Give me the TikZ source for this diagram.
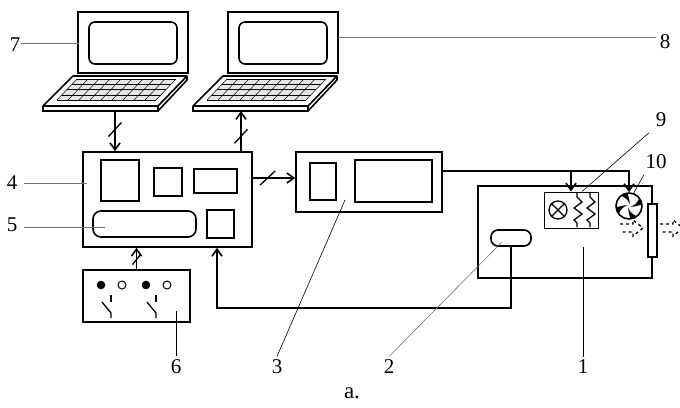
\documentclass[tikz,border=0pt]{standalone}
\usepackage{fontspec}
\setmainfont{Liberation Serif}
\usetikzlibrary{arrows.meta, positioning}

\begin{document}
\begin{tikzpicture}[
    x=1pt, y=-1pt,
    font=\fontsize{21}{24}\selectfont,
    ln/.style={line width=1.6pt},
    box/.style={draw, ln, inner sep=0pt},
    lead/.style={line width=.6pt},
    leadg/.style={lead, black!55},
    ar/.style={ln, -{Straight Barb[length=7pt,width=10pt]}},
    brk/.style={line width=1.3pt},
    keyln/.style={line width=.5pt},
    flow/.style={line width=1.3pt, dash pattern=on 3pt off 3pt},
    laptop/.pic={
      % lid with its screen
      \draw[ln] (0,0) rectangle (110,61);
      \draw[ln, rounded corners=6pt] (11,10) rectangle (99,52);
      % keyboard plate and its front edge
      \draw[ln, line join=round] (-5,64) -- (109,64) -- (80,94) -- (-35,94) -- cycle;
      \draw[ln] (-35,94) -- (-35,99) -- (80,99) -- (80,94) (80,99) -- (109,68) -- (109,64);
      % keys
      \fill[black!10] (-1,67) -- (98,67) -- (78,88) -- (-21,88) -- cycle;
      \foreach \k in {0,...,4}
        \draw[keyln] (-1-5*\k,67+5.25*\k) -- (98-5*\k,67+5.25*\k);
      \foreach \k in {0,...,9}
        \draw[keyln] (-1+11*\k,67) -- (-21+11*\k,88);
    }
  ]
  \useasboundingbox (0,0) rectangle (680,407);

  % two computers
  \pic at (78,12) {laptop};
  \pic at (228,12) {laptop};
  \coordinate (p7) at (115,111);
  \coordinate (p8) at (241,111);

  % controller block 4 with its parts
  \node[box, minimum width=169pt, minimum height=95pt] (b4) at (167.5,199.5) {};
  \node[box, minimum width=38pt, minimum height=41pt] (k1) at (120,180.5) {};
  \node[box, minimum width=28pt, minimum height=28pt] (k2) at (168,182) {};
  \node[box, minimum width=43pt, minimum height=24pt] (k3) at (215.5,181) {};
  \node[box, minimum width=103pt, minimum height=26pt, rounded corners=8pt] (k4) at (144.5,224) {};
  \node[box, minimum width=27pt, minimum height=28pt] (k5) at (220.5,224) {};

  % block 3
  \node[box, minimum width=146pt, minimum height=60pt] (b3) at (369,182) {};
  \node[box, minimum width=26pt, minimum height=37pt] (d1) at (323,181.5) {};
  \node[box, minimum width=77pt, minimum height=42pt] (d2) at (393.5,181) {};

  % switch panel 6
  \node[box, minimum width=107pt, minimum height=52pt] (b6) at (136.5,296) {};
  \foreach \s in {0,45} {
    \fill ({101+\s},285) circle (4.3);
    \draw[line width=1pt] ({122+\s},285) circle (4);
    \draw[line width=1.3pt] ({111+\s},295) -- ({111+\s},302);
    \draw[line width=1.3pt] ({102+\s},302) -- ({111+\s},313) -- ({111+\s},318);
  }

  % chamber 1
  \node[box, minimum width=174pt, minimum height=92pt] (b1) at (565,232) {};
  \node[box, minimum width=40pt, minimum height=16pt, rounded corners=7pt] (sens) at (511,238) {};
  \node[box, fill=white, minimum width=9pt, minimum height=53pt] (win) at (652.5,230.5) {};

  % lamp and heaters 9
  \node[box, line width=1pt, minimum width=54pt, minimum height=36pt] (b9) at (571,210) {};
  \node[draw, circle, line width=1.3pt, minimum size=18pt, inner sep=0pt] (lamp) at (558,210) {};
  \draw[line width=1.3pt] (lamp.45) -- (lamp.225) (lamp.135) -- (lamp.315);
  \foreach \z in {577,590}
    \draw[line width=1.3pt] (\z,193) -- (\z,197) -- (\z+5,202) -- (\z-3,208) -- (\z+5,214)
      -- (\z-3,220) -- (\z,223) -- (\z,227);

  % fan 10
  \node[draw, circle, fill=white, ln, minimum size=26pt, inner sep=0pt] (fan) at (629,206) {};
  \foreach \a in {0,90,180,270}
    \fill[shift={(fan.center)}, rotate=\a] (1.5,0.5) .. controls (5,0) and (8,-3) .. (10,-7)
      .. controls (12,-5) and (12.8,-3) .. (12.5,-1) .. controls (9,-1) and (5,1.5) .. (1.5,0.5);

  % air flow through the window
  \draw[flow] (620,224) -- (633,224) -- (633,220) -- (643,228) -- (633,236) -- (633,232) -- (620,232);
  \draw[flow] (660,224) -- (673,224) -- (673,220) -- (683,228) -- (673,236) -- (673,232) -- (660,232);

  % links
  \draw[ar] (p7) -- coordinate[pos=.46] (t1) (p7 |- b4.north);
  \draw[brk] (t1) +(-6.5,7) -- +(6.5,-7);
  \draw[ar] (p8 |- b4.north) -- coordinate[pos=.37] (t2) (p8);
  \draw[brk] (t2) +(-6.5,7) -- +(6.5,-7);
  \draw[ar] ([yshift=21.5pt]b4.east) -- coordinate[pos=.35] (t3) ([yshift=21.5pt]b4.east -| b3.west);
  \draw[brk] (t3) +(-7.5,7) -- +(7.5,-7);
  \draw[ar] (b6.north) -- coordinate[pos=.45] (t4) (b6.north |- b4.south);
  \draw[brk] (t4) +(-4,5) -- +(4,-5);
  \coordinate (w0) at ([yshift=11pt]b3.east);
  \draw[ar] (w0) -| (b9.north);
  \draw[ar] (w0 -| b9.north) -| (fan.north);
  \draw[ar] (sens.south) -- ++(0,61) -| ([xshift=49.5pt]b4.south);

  % numbering
  \node (l7) at (15,45) {7};
  \node (l8) at (665,42) {8};
  \node (l4) at (12,183) {4};
  \node (l5) at (12,225) {5};
  \node (l6) at (176,367) {6};
  \node (l3) at (277,367) {3};
  \node (l2) at (389,367) {2};
  \node (l1) at (583,367) {1};
  \node (l9) at (661,120) {9};
  \node (l10) at (656,162) {10};
  \node[font=\fontsize{23}{26}\selectfont] (cap) at (352,393) {a.};
  \draw[leadg] ([xshift=-3pt,yshift=2pt]l7.east) -- ++(58,0);
  \draw[leadg] ([yshift=5pt]l8.west) -- ++(-318,0);
  \draw[leadg] ([xshift=3pt]l4.east) -- ++(63,0);
  \draw[leadg] ([xshift=3pt,yshift=-2pt]l5.east) -- ++(81,0);
  \draw[lead] (l6.north) -- ++(0,-45);
  \draw[lead] (l3.north) -- ([xshift=-24pt,yshift=-18pt]b3.center);
  \draw[leadg] (l2.north) -- ([xshift=-9pt,yshift=-4pt]sens.center);
  \draw[lead] (l1.north) -- ++(0,-110);
  \draw[lead] ([xshift=-3pt,yshift=-2pt]l9.south west) -- ([xshift=11pt]b9.north);
  \draw[lead] ([xshift=2pt,yshift=-2pt]l10.south west) -- (fan.70);
\end{tikzpicture}
\end{document}
